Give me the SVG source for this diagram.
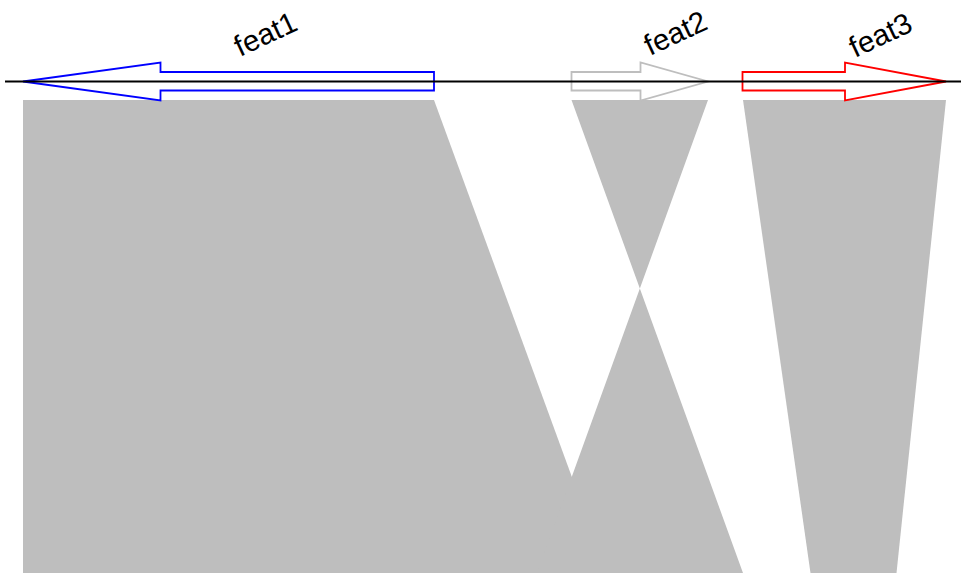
<svg xmlns="http://www.w3.org/2000/svg" width="961" height="578" viewBox="0 0 961 578">
  <style>
    .link { fill: #bebebe; stroke: none; }
    .gene { fill: #ffffff; stroke-width: 1.8; stroke-linejoin: miter; }
    .axis { stroke: #000000; stroke-width: 1.8; fill: none; }
    .label { font-family: "Liberation Sans", Arial, sans-serif; font-size: 29.5px; fill: #000000; }
  </style>

  <!-- comparison ribbons between the two segments -->
  <g id="links">
    <polygon id="link-feat1" class="link" points="23,100 434,100 607,573 23,573"/>
    <polygon id="link-feat2" class="link" points="571.5,100 708,100 537,573 743,573"/>
    <polygon id="link-feat3" class="link" points="743,100 946,100 896.5,573 810.5,573"/>
  </g>

  <!-- gene arrows with their labels -->
  <g id="feat1">
    <polygon class="gene" stroke="#0000ff" points="434,72 160.5,72 160.5,62.5 23,81.5 160.5,100.5 160.5,90.5 434,90.5"/>
    <text class="label" transform="translate(240,57) rotate(-25)">feat1</text>
  </g>
  <g id="feat2">
    <polygon class="gene" stroke="#bebebe" points="571.5,72 640.5,72 640.5,62.5 708,81.5 640.5,100.5 640.5,90.5 571.5,90.5"/>
    <text class="label" transform="translate(650,56) rotate(-25)">feat2</text>
  </g>
  <g id="feat3">
    <polygon class="gene" stroke="#ff0000" points="742.5,72 845,72 845,62.5 946,81.5 845,100.5 845,90.5 742.5,90.5"/>
    <text class="label" transform="translate(855,58) rotate(-25)">feat3</text>
  </g>

  <!-- sequence backbone, drawn over the gene arrows -->
  <g id="connectors">
    <line class="axis" x1="5" y1="81.5" x2="961" y2="81.5"/>
  </g>
</svg>
